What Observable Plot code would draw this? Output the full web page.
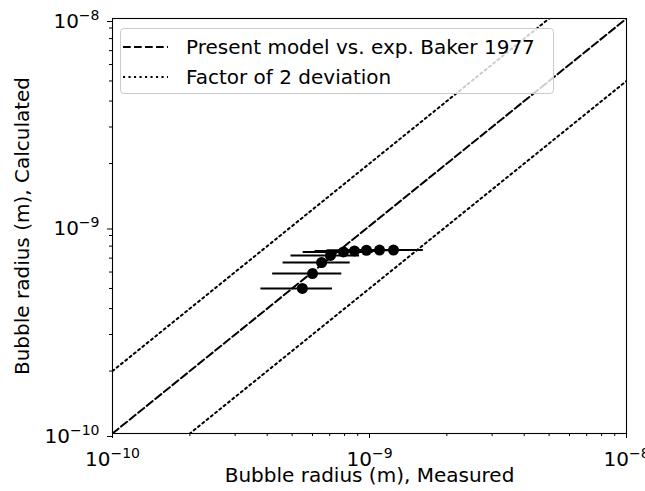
<!DOCTYPE html>
<html><head><meta charset="utf-8">
<script src="https://cdn.jsdelivr.net/npm/d3@7"></script>
<script src="https://cdn.jsdelivr.net/npm/@observablehq/plot@0.6"></script>
<style>
body{margin:0;background:#fff;font-family:"DejaVu Sans",sans-serif;}
#wrap{position:relative;width:645px;height:491px;overflow:hidden;}
#legend{position:absolute;left:120px;top:28px;width:434px;height:66px;background:rgba(255,255,255,0.8);border:1px solid #cccccc;border-radius:4px;box-sizing:border-box;font-size:20px;color:#000;}
.row{position:absolute;left:0;height:30px;display:flex;align-items:center;white-space:nowrap;}
.row svg{margin-left:2px;margin-right:18px;}
</style></head><body><div id="wrap"></div>
<script>
// Data
const measured    = [5.48e-10, 6.0e-10, 6.51e-10, 7.05e-10, 7.92e-10, 8.74e-10, 9.73e-10, 1.094e-9, 1.24e-9];
const calculated  = [5.0e-10, 5.9e-10, 6.67e-10, 7.21e-10, 7.5e-10, 7.58e-10, 7.64e-10, 7.66e-10, 7.66e-10];
const measuredErr = [1.7e-10, 1.8e-10, 1.9e-10, 2.1e-10, 2.4e-10, 2.6e-10, 2.9e-10, 3.3e-10, 3.8e-10];
const majorTicks = [1e-10, 1e-9, 1e-8];
const majorExponents = ["\u221210", "\u22129", "\u22128"];
const minorTicks = [2e-10,3e-10,4e-10,5e-10,6e-10,7e-10,8e-10,9e-10,2e-9,3e-9,4e-9,5e-9,6e-9,7e-9,8e-9,9e-9];
const diagonal = [1e-10, 1e-8];
const deviationFactor = 2;
const legendLabels = ["Present model vs. exp. Baker 1977", "Factor of 2 deviation"];
const xLabel = "Bubble radius (m), Measured";
const yLabel = "Bubble radius (m), Calculated";

const points = measured.map((m, i) => ({x: m, y: calculated[i], err: measuredErr[i]}));
const lineModel = diagonal.map(v => ({x: v, y: v}));
const lineUpper = diagonal.map(v => ({x: v, y: v * deviationFactor}));
const lineLower = diagonal.map(v => ({x: v, y: v / deviationFactor}));

const DASH = "7.7,3.3", DOT = "2.1,3.4";

const chart = Plot.plot({
  width: 645, height: 491,
  marginLeft: 112, marginRight: 19, marginTop: 18, marginBottom: 58,
  style: {fontFamily: "'DejaVu Sans', sans-serif", background: "transparent", color: "black", overflow: "visible"},
  x: {type: "log", domain: [1e-10, 1e-8]},
  y: {type: "log", domain: [1e-10, 1e-8]},
  marks: [
    Plot.line(lineUpper, {x: "x", y: "y", stroke: "black", strokeWidth: 2, strokeDasharray: DOT, clip: true}),
    Plot.line(lineLower, {x: "x", y: "y", stroke: "black", strokeWidth: 2, strokeDasharray: DOT, clip: true}),
    Plot.line(lineModel, {x: "x", y: "y", stroke: "black", strokeWidth: 2, strokeDasharray: DASH, clip: true}),
    Plot.ruleY(points, {y: "y", x1: d => d.x - d.err, x2: d => d.x + d.err, stroke: "black", strokeWidth: 2}),
    Plot.dot(points, {x: "x", y: "y", r: 5.5, fill: "black", stroke: "none"}),
    Plot.axisX(minorTicks, {tickSize: 3, tickFormat: () => "", label: null}),
    Plot.axisY(minorTicks, {tickSize: 3, tickFormat: () => "", label: null}),
    Plot.axisX(majorTicks, {tickSize: 5, tickPadding: 13, fontSize: 20, tickFormat: () => "10", label: null}),
    Plot.axisY(majorTicks, {tickSize: 5, tickPadding: 8, fontSize: 20, dy: 3, tickFormat: () => "10", label: null}),
    Plot.frame({stroke: "black", strokeWidth: 1.1}),
    Plot.text([xLabel], {text: d => d, frameAnchor: "bottom", dy: 48, fontSize: 20}),
    Plot.text([yLabel], {text: d => d, frameAnchor: "left", textAnchor: "middle", dx: -90, rotate: -90, fontSize: 20})
  ]
});

// superscript exponents on the tick labels
for (const axis of ["x-axis tick label", "y-axis tick label"]) {
  const texts = Array.from(chart.querySelectorAll(`g[aria-label="${axis}"] text`)).filter(t => t.textContent === "10");
  texts.forEach((t, i) => {
    const ts = document.createElementNS("http://www.w3.org/2000/svg", "tspan");
    ts.setAttribute("dy", "-8");
    ts.setAttribute("font-size", "14");
    ts.textContent = majorExponents[i];
    t.appendChild(ts);
  });
}

const wrap = document.getElementById("wrap");
wrap.appendChild(chart);

const legend = document.createElement("div");
legend.id = "legend";
const dashes = [DASH, DOT];
legendLabels.forEach((lab, i) => {
  const row = document.createElement("div");
  row.className = "row";
  row.style.top = (3 + i * 30) + "px";
  row.innerHTML = `<svg width="45" height="10"><line x1="0" x2="45" y1="5" y2="5" stroke="black" stroke-width="2" stroke-dasharray="${dashes[i]}"/></svg><span>${lab}</span>`;
  legend.appendChild(row);
});
wrap.appendChild(legend);
</script></body></html>
